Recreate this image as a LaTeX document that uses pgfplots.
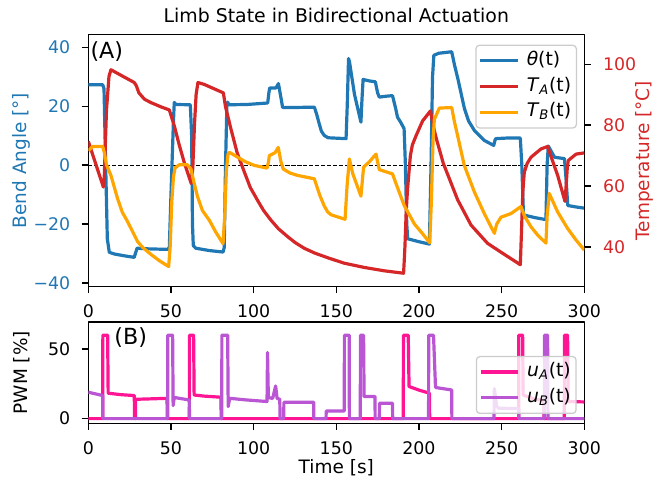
\documentclass[border=0pt]{standalone}
\usepackage{fontspec}
\setmainfont{DejaVu Sans}
\usepackage{pgfplots}
\pgfplotsset{compat=1.18}
\definecolor{tabblue}{HTML}{1F77B4}
\definecolor{tabred}{HTML}{D62728}
\definecolor{orng}{HTML}{FFA500}
\definecolor{dpink}{HTML}{FF1493}
\definecolor{morchid}{HTML}{BA55D3}

\pgfplotstableread{
t v
0 27.3
8.7 27.3
9.5 26
10.5 0
11.5 -25
12.7 -29.6
16 -30.2
22 -30.8
27.8 -31.3
28.2 -30.5
29.5 -28.2
35 -28.4
48 -28.6
49 -28
50 -10
51.5 15
52 21.3
53 20.6
61.7 20.5
62.5 10
63.0 -20
63.5 -27.3
65 -28.2
73.2 -29
81.5 -29.5
82.2 -28
83 0
83.8 20
84.3 21.4
85 20.5
96 20.6
108.5 21.1
109.2 24.5
109.7 26.2
113.5 26.2
115 27.7
116.8 22
117.5 19.6
127 19.6
136.7 19.7
138 17.5
139.7 14
141 11.5
142.7 10.1
145 9.3
155.9 9.0
156.6 20
157.4 36.2
158 35
161 24
164.9 14.6
165.5 22
166.2 29.1
170 28.6
173.6 28.3
175 24.5
176 23.1
180 23.4
184 23.6
186 19
187 16.3
189 14.5
191 12.4
191.8 0
192.6 -20
193.2 -25
200 -26
206.3 -26.8
207.3 0
208.2 30
209 37.3
212 38
219.8 38.5
221.5 34
223.5 29.4
227.5 19.2
230 15
233.5 11.8
239.5 8.4
245.2 6.7
246 8.5
246.5 9.0
253 9.2
261.3 9.2
262.2 0
263.2 -16.9
270 -17.8
276.8 -18.5
277.5 0
278.2 6.5
282 2.7
288 2.2
289 -5
290 -13.7
295 -14.2
300 -14.6
}\thetadata

\pgfplotstableread{
t v
0 74.7
9.1 59.7
9.6 62
11 85
12.5 96
13.7 98.2
20 96.3
27.8 94
29 93
30.6 90.6
34 88.5
37.9 87.4
44 86
49 85
52 79.8
55 73.5
58 67.8
62.3 60.8
63.2 66
64.2 80
65.2 90
66.3 94
70 93.4
75 92.2
81.7 90.6
83 86
86.3 78.7
90 71
94.4 64.6
98 59.5
102.4 55.3
106 52
110.5 48.8
115 46
120.6 43.4
125 41.5
130.6 39.6
137 38
145.8 36.3
154.8 34.7
166.9 33.3
179 32.2
190.7 31.4
191.5 40
192.3 52
193.1 59.1
194.8 70
196 73.5
198.2 76.5
202.2 81.4
207 84.7
208.5 80
210.7 75.2
214.7 67.5
218.4 62.4
223.4 55.5
231.5 47.2
241.5 41.2
251.6 37.6
261.3 34.2
262 45
262.8 58
263.7 64.6
265.5 67.5
267.8 69.5
273.8 72.2
277.8 73
280 69.5
283.9 63.5
288.3 55
289 60
289.7 66
290.3 68.4
295 70.5
300 70.9
}\tadata

\pgfplotstableread{
t v
0 71.6
2.6 73
8.7 73
9.7 71
11 67
13.7 63.5
17.7 55.9
20.5 51.5
23.8 48.3
29.8 41.8
33 39.8
37.9 37.6
43 35.5
48.6 33.6
49.5 40
50.5 55
51.5 63
52.5 66
55 67
60 67
62.1 65.6
64 61
66.1 56.5
69 52
73.2 48.8
77 45
81.5 41.1
82.5 50
83.5 65
84.5 70.5
85.3 71.1
90.3 69.5
95 68
100.4 66.8
108.1 65.9
109 68
109.5 70
113 71
114.9 72.7
116.5 68
117.9 65.6
122 64.3
126.6 63.5
136.7 62.4
140 57
142.7 53.5
144.8 51.5
146.8 50.6
155.3 49.1
156.5 60
157.9 68.9
160 64
164.9 56.7
166.5 66.2
170 68
174 70.5
176 65.4
184 64
186 61
191.1 53.6
197.2 47.6
202 44.5
206.5 41.4
207.5 55
208.5 75
209.3 81.9
212.3 85.6
219.8 85.8
221.5 81
223.4 76.5
227.4 66.8
233.5 58.1
239.5 51
245.6 44.5
247 47.5
249.6 49.8
255.7 51
261.7 53.3
264 50
267.8 46.6
272 43.8
276.8 41.3
277.5 50
278.8 57.6
283.9 51.5
289.9 46.1
295 42.3
300 39
}\tbdata

\pgfplotstableread{
t v
0 0
8.7 0
8.8 60
11.7 60
12.0 18.3
20 17.2
27.8 16.6
28.0 0
28.5 0
28.6 13.9
40 14.3
47.6 14.6
47.8 0
61.1 0
61.2 60
63.7 60
64.0 17
70 16.2
80.2 15.4
80.4 0
190.5 0
190.6 60
193.5 60
194 23.1
200 20.5
206.3 18.3
206.5 0
260.3 0
260.4 60
262.7 60
263 17
270 14
275.5 13
275.7 0
287.9 0
288 60
289.9 60
290.2 12.3
300 12
}\uadata

\pgfplotstableread{
t v
0 19
8.7 16.6
8.8 0
48 0
48.1 60
51 60
51.3 9.4
52 15.2
61.1 13.4
61.2 0
80.7 0
80.8 60
84.3 60
84.6 8.7
85.5 14.6
95 13.5
108.1 12.3
108.4 47.6
108.9 15.2
111.5 14.5
113.3 23.5
114.2 14.5
115.8 14
116 0
118.2 0
118.3 11.8
136.3 11.8
136.4 0
143.8 0
143.9 5.5
154.8 5.5
154.9 60
157.8 60
157.9 0
164.5 0
164.6 60
166.5 60
166.8 15.9
173.4 15.9
173.5 0
176 0
176.1 11
184 11
184.1 0
205.8 0
205.9 60
208.8 60
210 22.4
219.8 20.6
219.9 0
245.4 0
245.6 21.6
247 9
248 7.5
260.3 7.2
260.4 0
275.8 0
275.9 60
277.8 60
278 0
300 0
}\ubdata

\pgfplotsset{
  base/.style={
    scale only axis, width=357.12pt,
    xmin=0, xmax=300,
    xtick={0,50,100,150,200,250,300},
    tick align=outside, major tick length=4.8pt,
    every tick/.style={black, line width=1pt},
    axis line style={line width=1pt},
    /pgf/number format/assume math mode=true,
    tick label style={font=\fontsize{12.5}{14}\selectfont, inner sep=0pt},
    label style={font=\fontsize{13.3}{15}\selectfont},
    xticklabel style={anchor=north, yshift=-7.7pt},
    line join=round,
    legend cell align=left,
    legend image code/.code={\draw[line width=2.3pt] (0pt,0pt) -- (27pt,0pt);},
    legend style={draw=black!20, line width=0.9pt, rounded corners=2.5pt, fill=white, fill opacity=0.8, draw opacity=1, text opacity=1,
      font=\fontsize{13.5}{15}\selectfont, inner xsep=1.8pt, inner ysep=3.4pt, row sep=3.1pt,
      nodes={inner xsep=2pt, inner ysep=1pt, text height=10pt, text depth=3.5pt},
      /tikz/every odd column/.append style={column sep=3.5pt}},
  },
  ln/.style={line width=2.3pt, line join=round},
}

\begin{document}
\begin{tikzpicture}
\useasboundingbox (0,0) rectangle (472.32pt,344.88pt);
% ---------- top panel, left axis ----------
\begin{axis}[base,
  at={(63.58pt,138.6pt)}, anchor=south west,
  height=181.3pt,
  ymin=-41.2, ymax=44.3,
  ytick={-40,-20,0,20,40},
  yticklabels={−40,−20,0,20,40},
  ytick pos=left, xtick pos=bottom,
  yticklabel style={anchor=east, xshift=-8pt, text=tabblue},
  ylabel={Bend Angle [°]},
  ylabel style={at={(axis description cs:-0.1344,0.5)}, anchor=center, text=tabblue},
  title={Limb State in Bidirectional Actuation},
  title style={at={(axis description cs:0.5,1.0783)}, anchor=center, yshift=-6pt, font=\fontsize{13.6}{16}\selectfont},
]
\addplot[black, line width=0.9pt, dash pattern=on 3pt off 1.3pt] coordinates {(0,0) (300,0)};
\addplot[ln, tabblue] table[x=t,y=v] {\thetadata};
\node[anchor=west, inner sep=0pt, font=\fontsize{16}{18}\selectfont] at (axis description cs:0.004,0.933) {(A)};
\end{axis}
% ---------- top panel, right axis ----------
\begin{axis}[base,
  at={(63.58pt,138.6pt)}, anchor=south west,
  height=181.3pt,
  axis x line=none, axis y line*=right,
  ymin=27.05, ymax=109.7,
  ytick={40,60,80,100},
  yticklabel style={anchor=west, xshift=8.5pt, text=tabred},
  ylabel={Temperature [°C]},
  ylabel style={at={(axis description cs:1.1204,0.5)}, anchor=center, text=tabred},
  legend style={at={(0.9853,0.9603)}, anchor=north east},
]
\addlegendimage{tabblue, line width=2.3pt}
\addplot[ln, tabred] table[x=t,y=v] {\tadata};
\addplot[ln, orng] table[x=t,y=v] {\tbdata};
\addlegendentry{\textit{θ}(t)}
\addlegendentry{\textit{T}\textsubscript{\textit{A}}(t)}
\addlegendentry{\textit{T}\textsubscript{\textit{B}}(t)}
\end{axis}
% ---------- bottom panel ----------
\begin{axis}[base,
  at={(63.58pt,39.96pt)}, anchor=south west,
  height=73.08pt,
  ymin=-3.5, ymax=69.5,
  ytick={0,50},
  ytick pos=left, xtick pos=bottom,
  yticklabel style={anchor=east, xshift=-8pt},
  ylabel={PWM [\%]},
  ylabel style={at={(axis description cs:-0.1344,0.5)}, anchor=center},
  xlabel={Time [s]},
  xlabel style={at={(axis description cs:0.5,-0.44)}, anchor=center},
  legend style={at={(0.9847,0.0936)}, anchor=south east},
]
\addplot[ln, dpink] table[x=t,y=v] {\uadata};
\addplot[ln, morchid] table[x=t,y=v] {\ubdata};
\addlegendentry{\textit{u}\textsubscript{\textit{A}}(t)}
\addlegendentry{\textit{u}\textsubscript{\textit{B}}(t)}
\node[anchor=west, inner sep=0pt, font=\fontsize{16}{18}\selectfont] at (axis description cs:0.052,0.842) {(B)};
\end{axis}
\end{tikzpicture}
\end{document}
